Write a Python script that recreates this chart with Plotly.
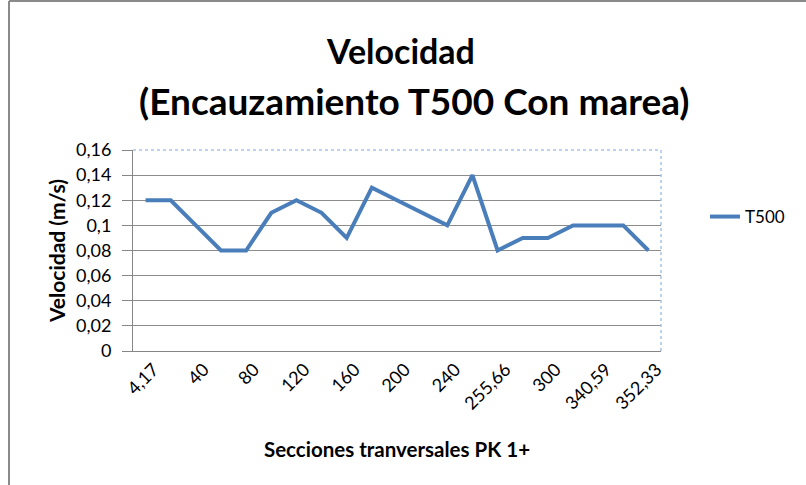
import plotly.graph_objects as go

# Cross sections (PK 1+) and velocity for T500 with tide
secciones = ["4,17", "20", "40", "60", "80", "100", "120", "140", "160", "180", "200",
             "220", "240", "250", "255,66", "280", "300", "320", "340,59", "345", "352,33"]
velocidad = [0.12, 0.12, 0.10, 0.08, 0.08, 0.11, 0.12, 0.11, 0.09, 0.13, 0.12,
             0.11, 0.10, 0.14, 0.08, 0.09, 0.09, 0.10, 0.10, 0.10, 0.08]

y_ticks = [0, 0.02, 0.04, 0.06, 0.08, 0.10, 0.12, 0.14, 0.16]
y_ticktext = ["0", "0,02", "0,04", "0,06", "0,08", "0,1", "0,12", "0,14", "0,16"]

FONT = "Lato, 'Open Sans', sans-serif"
W, H = 806, 485
L, R, T, B = 133, 145, 150, 134
pw, ph = W - L - R, H - T - B

fig = go.Figure()
fig.add_trace(go.Scatter(
    x=secciones, y=velocidad, mode="lines", name="T500",
    line=dict(color="#4a7ebb", width=4),
))

fig.update_layout(
    width=W, height=H,
    margin=dict(l=L, r=R, t=T, b=B),
    paper_bgcolor="white", plot_bgcolor="white",
    font=dict(family=FONT, color="#000000", size=18),
    showlegend=True,
    legend=dict(x=(705 - L) / pw, y=(351 - 217) / ph, xanchor="left", yanchor="middle",
                font=dict(size=17, family=FONT), bgcolor="rgba(0,0,0,0)"),
    xaxis=dict(
        type="category", range=[-0.5, len(secciones) - 0.5],
        tickmode="array", tickvals=secciones[::2], ticktext=secciones[::2],
        tickangle=-45, showgrid=False, showline=True, linecolor="#868686", linewidth=1,
        ticks="", ticklabelshift=8, tickfont=dict(size=18, family=FONT),
        title=dict(text="<b>Secciones tranversales PK 1+</b>", font=dict(size=20.5, family=FONT),
                   standoff=30),
    ),
    yaxis=dict(
        range=[0, 0.16], tickmode="array", tickvals=y_ticks, ticktext=y_ticktext,
        showgrid=True, gridcolor="#8c8c8c", gridwidth=1, zeroline=False,
        showline=True, linecolor="#868686", linewidth=1,
        ticks="outside", ticklen=10, tickcolor="#868686", ticklabelstandoff=7,
        tickfont=dict(size=18, family=FONT),
        title=dict(text="<b>Velocidad (m/s)</b>", font=dict(size=21, family=FONT), standoff=4),
    ),
    annotations=[
        dict(text="<b>Velocidad</b>", xref="paper", yref="paper",
             x=(400 - L) / pw, y=(351 - 50) / ph, xanchor="center", yanchor="middle",
             showarrow=False, font=dict(size=34, family=FONT)),
        dict(text="<b>(Encauzamiento T500 Con marea)</b>", xref="paper", yref="paper",
             x=(414 - L) / pw, y=(351 - 100) / ph, xanchor="center", yanchor="middle",
             showarrow=False, font=dict(size=37, family=FONT)),
    ],
    shapes=[
        # dotted top and right edges of the plot area
        dict(type="line", xref="paper", yref="paper", x0=0, x1=1, y0=1, y1=1,
             line=dict(color="#a9c4ea", width=1.5, dash="dot")),
        dict(type="line", xref="paper", yref="paper", x0=1, x1=1, y0=0, y1=1,
             line=dict(color="#a9c4ea", width=1.5, dash="dot")),
        # chart area border (left and top)
        dict(type="line", xref="paper", yref="paper",
             x0=(9 - L) / pw, x1=(9 - L) / pw, y0=(351 - 485) / ph, y1=(351 - 1) / ph,
             line=dict(color="#8a8a8a", width=2)),
        dict(type="line", xref="paper", yref="paper",
             x0=(9 - L) / pw, x1=(806 - L) / pw, y0=(351 - 1) / ph, y1=(351 - 1) / ph,
             line=dict(color="#8a8a8a", width=2)),
    ],
)

fig.write_html("out.html")
